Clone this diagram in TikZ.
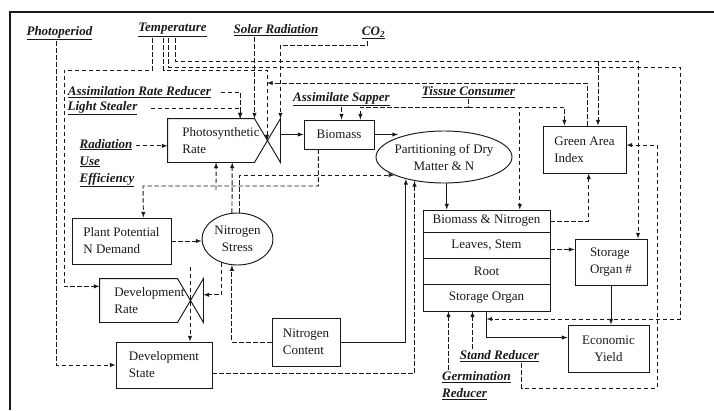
\documentclass[tikz,border=0pt]{standalone}
\usepackage{fontspec}
\setmainfont{Liberation Serif}
\usetikzlibrary{shapes.geometric}

\newcommand{\drivertext}[1]{\underline{\textbf{\textit{#1}}}}

\tikzstyle{block} = [draw, rectangle, inner sep=0pt, align=center]
\tikzstyle{pool} = [draw, ellipse, inner sep=0pt, align=center]
\tikzstyle{valvebox} = [rectangle, inner sep=0pt]
\tikzstyle{driver} = [inner sep=1pt, align=left]
\tikzstyle{info} = [dash pattern=on 4.5pt off 2.5pt, ->, >=latex]
\tikzstyle{flow} = [->, >=latex]

\begin{document}
\begin{tikzpicture}[x=1pt, y=-1pt, line width=0.95pt, color=black!90,
	font=\fontsize{13}{17}\selectfont]
	\useasboundingbox (0,0) rectangle (714,410);
	\draw[line width=1.8pt] (10,410) -- (10,12) -- (714,12);

	% drivers
	\node[driver] (photo) at (59.5,33) {\drivertext{Photoperiod}};
	\node[driver] (temp) at (172.5,30) {\drivertext{Temperature}};
	\node[driver] (solar) at (276,30) {\drivertext{Solar Radiation}};
	\node[driver] (co2) at (373.5,33) {\drivertext{CO\textsubscript{2}}};
	\node[driver] (arr) at (139.5,92) {\drivertext{Assimilation Rate Reducer}};
	\node[driver] (light) at (102.5,108) {\drivertext{Light Stealer}};
	\node[driver] (sapper) at (341.5,99) {\drivertext{Assimilate Sapper}};
	\node[driver] (tissue) at (468.5,92) {\drivertext{Tissue Consumer}};
	\node[driver] (rue) at (107,163) {\drivertext{Radiation}\\ \drivertext{Use}\\ \drivertext{Efficiency}};
	\node[driver] (stand) at (499.5,356) {\drivertext{Stand Reducer}};
	\node[driver] (germ) at (476.5,385.5) {\drivertext{Germination}\\ \drivertext{Reducer}};

	% states and rates
	\node[valvebox, minimum width=86, minimum height=43] (psr) at (211,140.5) {};
	\node[valvebox, minimum width=26, minimum height=43] (psv) at (267,140.5) {};
	\node[anchor=west, align=left] (psrtext) at ([xshift=11pt]psr.west) {Photosynthetic\\ Rate};
	\draw (psr.north east) -- (psr.north west) -- (psr.south west) -- (psr.south east)
		-- (psv.north east) -- (psv.south east) -- cycle;
	\node[block, minimum width=70, minimum height=29] (bio) at (339,134.5) {Biomass};
	\node[pool, minimum width=136, minimum height=52, inner xsep=-4pt] (part) at (444,157) {Partitioning of Dry\\ Matter \& N};
	\node[block, minimum width=83, minimum height=47, align=left] (gai) at (584.5,149.5) {Green Area\\ Index};
	\node[block, minimum width=127, minimum height=22] (bn) at (486.5,221) {Biomass \& Nitrogen};
	\node[block, minimum width=127, minimum height=26] (ls) at (486.5,245) {Leaves, Stem};
	\node[block, minimum width=127, minimum height=26] (root) at (486.5,271) {Root};
	\node[block, minimum width=127, minimum height=27] (so) at (486.5,297.5) {Storage Organ};
	\node[block, minimum width=72, minimum height=46, align=left] (sog) at (611,262) {Storage\\ Organ \#};
	\node[block, minimum width=81, minimum height=47] (ey) at (608.5,348.5) {Economic\\ Yield};
	\node[block, minimum width=99, minimum height=46, align=left] (ppn) at (121.5,241) {Plant Potential\\ N Demand};
	\node[pool, minimum width=71, minimum height=52] (ns) at (237.5,239) {Nitrogen\\ Stress};
	\node[valvebox, minimum width=77, minimum height=43] (dr) at (138.5,300.5) {};
	\node[valvebox, minimum width=26, minimum height=43] (drv) at (190,300.5) {};
	\node[anchor=west, align=left] (drtext) at ([xshift=11pt]dr.west) {Development\\ Rate};
	\draw (dr.north east) -- (dr.north west) -- (dr.south west) -- (dr.south east)
		-- (drv.north east) -- (drv.south east) -- cycle;
	\node[block, minimum width=96, minimum height=46, align=left] (ds) at (164,365) {Development\\ State};
	\node[block, minimum width=68, minimum height=48, align=left] (nc) at (306,342) {Nitrogen\\ Content};

	% material flows
	\coordinate (pin) at (398,134.5);
	\draw[flow] (psv.east |- bio.west) -- (bio.west);
	\draw[flow] (bio.east) -- (pin);
	\draw[flow] (part.-84) -- (part.-84 |- bn.north);
	\draw[flow] (nc.east) -| (part.210);
	\draw[flow] (sog.south) -- (sog.south |- ey.north);
	\draw[flow] (so.south) |- (ey.165);

	% information flows
	\draw[info] ([xshift=-20pt]temp.south) |- (64,70) |- (dr.160);
	\draw[info] ([xshift=-9pt]temp.south) |- (267,70) -- (psv.center);
	\draw[info] ([xshift=3pt]temp.south) |- (638,61) -- (638,0 |- sog.north);
	\draw[info] (598,61) -- (598,0 |- gai.north);
	\draw[info] ([xshift=-4pt]temp.south) |- (680,67) |- (so.south |- 0,319);
	\draw[info] ([xshift=-3pt]photo.south) |- (ds.west);
	\draw[info] (solar.south -| psr.north east) -- (psr.north east);
	\draw[info] ([xshift=-6pt]co2.south) |- (psv.north east |- 0,45) -- (psv.north east);
	\draw[info] ([xshift=2.5pt]gai.north) |- (psv.center |- 0,83);
	\draw[info, shorten <=8pt] (arr.east) -| (psr.37);
	\draw[info, shorten <=12pt] (light.east) -| (psr.37);
	\draw[info] (rue.east |- psr.187) -- (psr.187);
	\draw[info] (sapper.south) -- (sapper.south |- bio.north);
	\coordinate (tc) at (tissue.south |- 0,107);
	\draw[dash pattern=on 4.5pt off 2.5pt] (tissue.south) -- (tc);
	\draw[info] (tc) -| (bio.35);
	\draw[info] (tc) -| (bn.19);
	\draw[info] (tc) -| (gai.130);
	\draw[info] (bio.-144) |- (143,186) -- (ppn.47);
	\draw[info] (216,190) -- (psr.-77);
	\draw[info] (ppn.east) -- (ppn.east -| ns.west);
	\draw[info] (ns.102) -- (psr.-46);
	\draw[info] (ns.86) |- (part.200);
	\draw[info] (ns.236) |- (drv.23);
	\draw[info] (nc.west) -| (ns.258);
	\draw[info] ([yshift=12pt]drv.north) -- (drv.center |- ds.north);
	\draw[info] (ds.-10) -| (part.219);
	\draw[info] (bn.east) -| (gai.-80);
	\draw[info] (ls.-4) -- (ls.-4 -| sog.west);
	\draw[info] ([xshift=-27pt]stand.north) -- ([xshift=-27pt]stand.north |- so.south);
	\draw[info] ([xshift=22pt]stand.south) |- (657,388) |- (gai.6);
	\draw[info] ([xshift=-28pt]germ.north) -- ([xshift=-28pt]germ.north |- so.south);
\end{tikzpicture}
\end{document}
